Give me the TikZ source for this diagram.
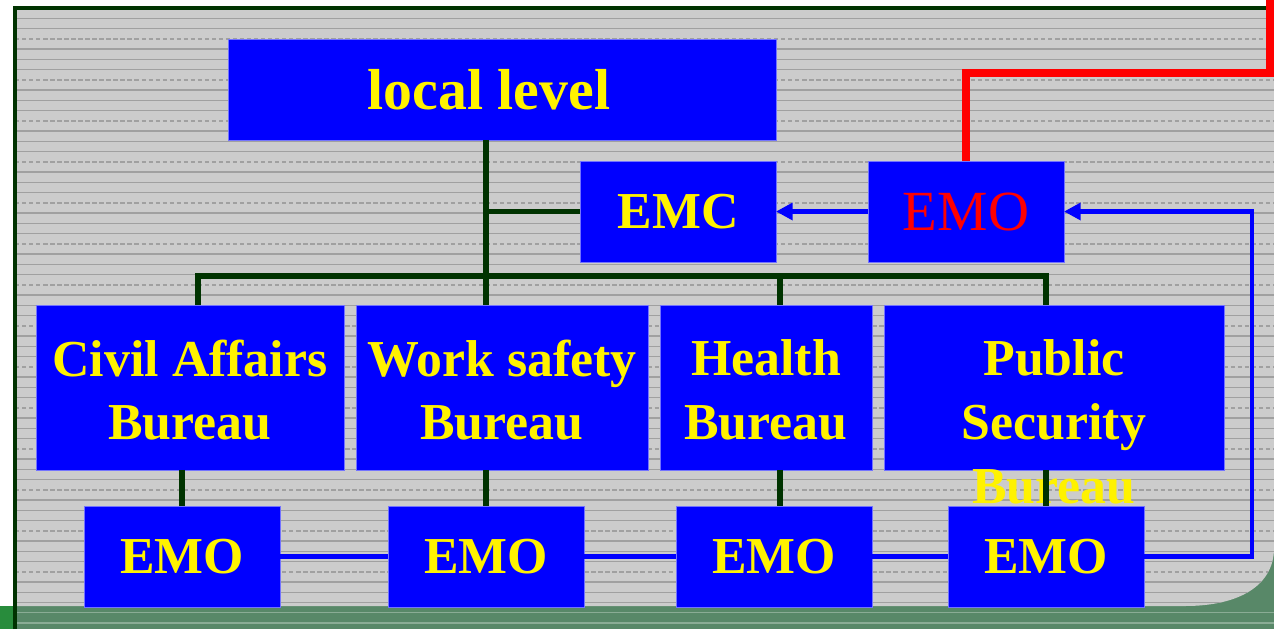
\documentclass[tikz,border=0pt]{standalone}
\usepackage{fontspec}
\setmainfont{Liberation Serif}
\usetikzlibrary{arrows.meta}

\definecolor{boxblue}{RGB}{0,0,255}
\definecolor{treegreen}{RGB}{0,51,0}
\definecolor{paper}{RGB}{204,204,204}
\definecolor{hatch}{RGB}{160,160,160}
\definecolor{band}{RGB}{88,136,104}
\definecolor{bandleft}{RGB}{40,140,60}

\tikzset{
  box/.style={fill=boxblue, draw=blue!55!white, line width=0.4pt, inner sep=0pt, outer sep=0pt,
    text=yellow, font=\bfseries\fontsize{29.5}{36.3}\selectfont, align=center},
  bureautext/.style={inner sep=0pt, text=yellow, font=\bfseries\fontsize{29.5}{36.3}\selectfont, align=center},
  tree/.style={treegreen, line width=3.4pt},
  link/.style={boxblue, line width=2.4pt},
  tip/.style={-{Triangle[length=9.5pt,width=9.5pt]}},
}

\begin{document}
\begin{tikzpicture}[x=0.02cm, y=-0.02cm]
        \useasboundingbox[fill=white] (0,0) rectangle (1274,629);

        % Background: green band, grey sheet with hatching
        \fill[band] (15,540) rectangle (1274,629);
        \fill[bandleft] (0,606) rectangle (15,629);
        \foreach \yy in {612.8,623} {
            \draw[band!70!white, line width=0.7pt] (15,\yy) -- (1274,\yy);
        }
        \fill[paper] (15,8) -- (1274,8) -- (1274,548)
            .. controls (1274,585) and (1240,606) .. (1185,606) -- (15,606) -- cycle;
        \begin{scope}
            \clip (15,8) -- (1274,8) -- (1274,548)
                .. controls (1274,585) and (1240,606) .. (1185,606) -- (15,606) -- cycle;
            \foreach \i in {0,...,58} {
                \pgfmathsetmacro\yy{18.3+10.25*\i}
                \pgfmathtruncatemacro\m{mod(\i,4)}
                \ifnum\m=2
                    \draw[hatch, line width=0.8pt, dash pattern=on 2.5pt off 1.5pt] (15,\yy) -- (1274,\yy);
                \else
                    \draw[hatch, line width=0.8pt] (15,\yy) -- (1274,\yy);
                \fi
            }
        \end{scope}
        \draw[treegreen, line width=2pt] (15,629) -- (15,8) -- (1274,8);

        % Top level
        \node[box, minimum width=10.96cm, minimum height=2.02cm,
              font=\bfseries\fontsize{32.9}{39}\selectfont] (local) at (502,89.5) {local level\hspace{0.52cm}};
        \node[box, minimum width=3.92cm, minimum height=2.02cm] (emc) at (678,211.5) {EMC};
        \node[box, minimum width=3.92cm, minimum height=2.02cm, text=red,
              font=\fontsize{32.3}{39}\selectfont] (emotop) at (966,211.5) {EMO};

        % Bureaus
        \node[box, minimum width=6.16cm, minimum height=3.3cm] (civil) at (190,387.5) {};
        \node[box, minimum width=5.84cm, minimum height=3.3cm] (work) at (502,387.5) {};
        \node[box, minimum width=4.24cm, minimum height=3.3cm] (health) at (766,387.5) {};
        \node[box, minimum width=6.8cm, minimum height=3.3cm] (public) at (1054,387.5) {};
        \node[bureautext] (civiltxt) at ([yshift=-0.05cm]civil.center) {Civil Affairs\\Bureau};
        \node[bureautext] (worktxt) at ([yshift=-0.05cm]work.center) {Work safety\\Bureau};
        \node[bureautext] (healthtxt) at ([yshift=-0.05cm]health.center) {Health\\Bureau};
        \node[bureautext, anchor=north] (publictxt) at (public.center |- civiltxt.north) {Public\\Security\\Bureau};

        % Tree connectors
        \coordinate (busL) at (198,276);
        \coordinate (busH) at (780,276);
        \coordinate (busR) at (1046,276);
        \draw[tree, line cap=rect] (busL) -- (busR);
        \draw[tree] (local.south -| 486,0) -- (486,0 |- work.north);
        \draw[tree] (emc.west) -- (emc.west -| 486,0);
        \draw[tree] (busL) -- (busL |- civil.north);
        \draw[tree] (busH) -- (busH |- health.north);
        \draw[tree] (busR) -- (busR |- public.north);

        % EMOs of the bureaus
        \coordinate (dropH) at (780,510);
        \draw[tree] (182,0 |- civil.south) -- (182,510);
        \draw[tree] (486,0 |- work.south) -- (486,510);
        \draw[tree] (dropH |- health.south) -- (dropH);
        \draw[tree] (1046,0 |- public.south) -- (1046,510);
        \node[box, minimum width=3.92cm, minimum height=2.02cm] (emo1) at (182,556.5) {EMO};
        \node[box, minimum width=3.92cm, minimum height=2.02cm] (emo2) at (486,556.5) {EMO};
        \node[box, minimum width=3.92cm, minimum height=2.02cm] (emo3) at (774,556.5) {EMO};
        \node[box, minimum width=3.92cm, minimum height=2.02cm] (emo4) at (1046,556.5) {EMO};

        % Blue links
        \foreach \a/\b in {emo1/emo2, emo2/emo3, emo3/emo4}
            \draw[link] (\a.east) -- (\b.west);
        \coordinate (loop) at (1252,556.5);
        \draw[link, tip] (emo4.east) -- (loop) |- (emotop.east);
        \draw[link, tip] (emotop.west) -- (emc.east);

        % Red line out of the frame
        \coordinate (bend) at (1270,73);
        \coordinate (out) at (1270,-5);
        \draw[red, line width=4.6pt] (emotop.north) |- (bend) -- (out);
    \end{tikzpicture}
\end{document}
